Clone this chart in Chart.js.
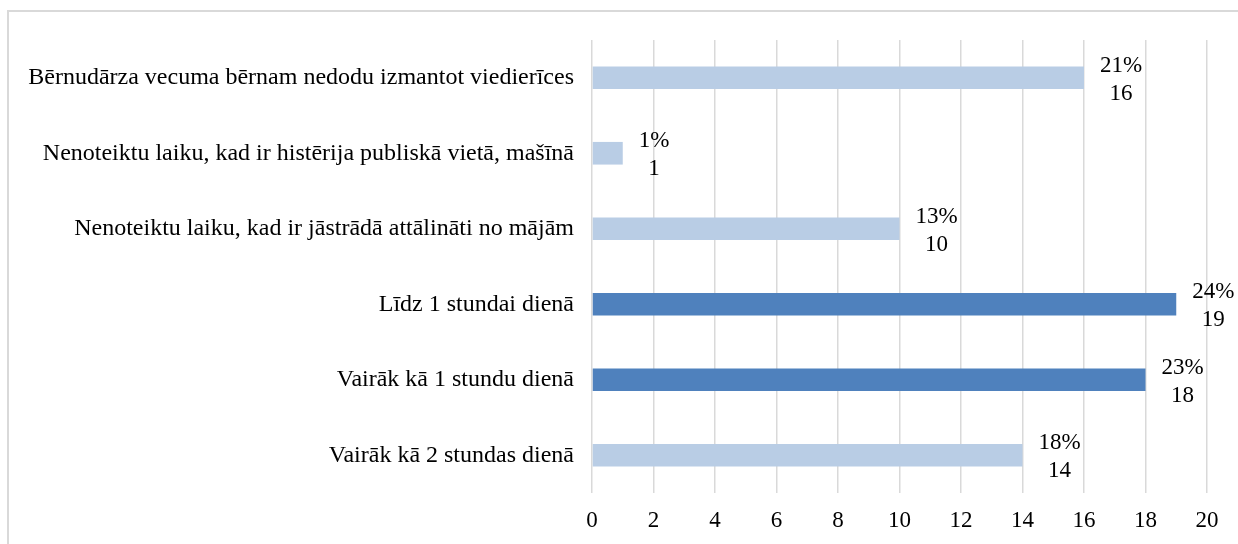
<!DOCTYPE html>
<html>
<head>
<meta charset="utf-8">
<script src="https://cdn.jsdelivr.net/npm/chart.js@4/dist/chart.umd.min.js"></script>
<style>
  html, body { margin: 0; padding: 0; background: #fff; overflow: hidden; }
  #wrap { position: relative; width: 1238px; height: 544px; }
  #frame { position: absolute; left: 7px; top: 10px; width: 1300px; height: 600px;
           border-left: 2px solid #d9d9d9; border-top: 2px solid #d9d9d9; box-sizing: border-box; }
  #c { position: absolute; left: 0; top: 0; }
</style>
</head>
<body>
<div id="wrap">
  <div id="frame"></div>
  <canvas id="c" width="1238" height="544"></canvas>
</div>
<script>
const categories = [
  'Bērnudārza vecuma bērnam nedodu izmantot viedierīces',
  'Nenoteiktu laiku, kad ir histērija publiskā vietā, mašīnā',
  'Nenoteiktu laiku, kad ir jāstrādā attālināti no mājām',
  'Līdz 1 stundai dienā',
  'Vairāk kā 1 stundu dienā',
  'Vairāk kā 2 stundas dienā'
];
const counts = [16, 1, 10, 19, 18, 14];
const percents = [21, 1, 13, 24, 23, 18];
const barColors = ['#B9CDE5', '#B9CDE5', '#B9CDE5', '#4F81BD', '#4F81BD', '#B9CDE5'];
const xTicks = [0, 2, 4, 6, 8, 10, 12, 14, 16, 18, 20];

const FONT = "'Liberation Serif', 'Times New Roman', serif";

const labelPlugin = {
  id: 'twoLineLabels',
  afterDatasetsDraw(chart) {
    const ctx = chart.ctx;
    const meta = chart.getDatasetMeta(0);
    ctx.save();
    ctx.font = '23px ' + FONT;
    ctx.fillStyle = '#000';
    ctx.textBaseline = 'middle';
    ctx.textAlign = 'center';
    meta.data.forEach((el, i) => {
      const l1 = percents[i] + '%';
      const l2 = String(counts[i]);
      const w = Math.max(ctx.measureText(l1).width, ctx.measureText(l2).width);
      const cx = el.x + 16 + w / 2;
      ctx.fillText(l1, cx, el.y - 12);
      ctx.fillText(l2, cx, el.y + 16);
    });
    ctx.restore();
  }
};

new Chart(document.getElementById('c'), {
  type: 'bar',
  data: {
    labels: categories,
    datasets: [{
      data: counts,
      backgroundColor: barColors,
      borderWidth: 0,
      categoryPercentage: 1.0,
      barPercentage: 0.3
    }]
  },
  options: {
    indexAxis: 'y',
    responsive: false,
    animation: false,
    devicePixelRatio: 1,
    layout: { padding: { top: 40, right: 31, left: 0, bottom: 0 } },
    plugins: { legend: { display: false }, tooltip: { enabled: false } },
    scales: {
      x: {
        min: 0, max: 20,
        afterBuildTicks(scale) { scale.ticks = xTicks.map(v => ({ value: v })); },
        afterFit(scale) { scale.height = 51; },
        grid: { color: '#d9d9d9', lineWidth: 1.5, drawTicks: false },
        border: { display: false },
        ticks: { color: '#000', font: { family: FONT, size: 23 }, padding: 14 }
      },
      y: {
        afterFit(scale) { scale.width = 592; },
        grid: { display: false, drawTicks: false },
        border: { display: false },
        ticks: { color: '#000', font: { family: FONT, size: 24 }, padding: 18 }
      }
    }
  },
  plugins: [labelPlugin]
});
</script>
</body>
</html>
